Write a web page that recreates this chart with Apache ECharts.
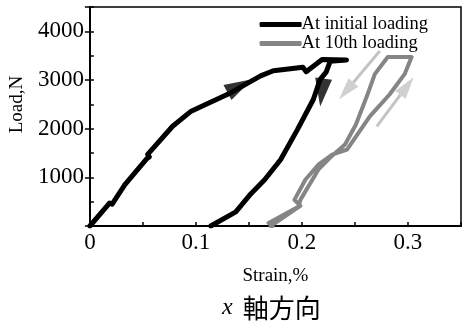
<!DOCTYPE html>
<html>
<head>
<meta charset="utf-8">
<script src="https://cdn.jsdelivr.net/npm/echarts@6/dist/echarts.min.js"></script>
<style>
  html, body { margin: 0; padding: 0; background: #fff; }
  #chart { width: 464px; height: 324px; }
</style>
</head>
<body>
<div id="chart"></div>
<script>
// 荷重-ひずみ曲線（x軸方向）
var seriesNames = ['At initial loading', 'At 10th loading'];

// 初回載荷
var initialStrain = [0, 0.0185, 0.021, 0.033, 0.0535, 0.056, 0.0545, 0.078, 0.0955, 0.133, 0.161, 0.173, 0.201, 0.204, 0.219, 0.242,
                     0.2266, 0.2228, 0.2172, 0.2107, 0.1957, 0.1798, 0.1648, 0.1517, 0.1376, 0.114];
var initialLoad   = [0, 470, 450, 850, 1380, 1420, 1470, 2050, 2360, 2740, 3085, 3190, 3260, 3170, 3420, 3410,
                     3385, 3160, 3015, 2600, 1980, 1360, 950, 660, 290, 0];

// 10回目載荷
var tenthStrain = [0.1704, 0.1985, 0.1929, 0.2032, 0.2154, 0.2285, 0.2425, 0.264, 0.2828, 0.2968, 0.3034, 0.2809,
                   0.2687, 0.2612, 0.2509, 0.2406, 0.2266, 0.2154, 0.1985, 0.1966, 0.1685, 0.1723];
var tenthLoad   = [0, 413, 537, 950, 1260, 1467, 1570, 2252, 2707, 3120, 3471, 3471,
                   3120, 2665, 2087, 1674, 1405, 1157, 537, 393, 62, 0];

// 矢印（黒）: 頭の中心と回転角
var blackArrowHeads = [[0.1414, 2878], [0.2188, 2742]];
var blackArrowRotate = [-62, 173];

// 矢印（薄い灰色）: 軸 [始点, 終点] と頭
var greyArrowShafts = [
    [[0.2734, 3595], [0.2484, 2950]],
    [[0.2706, 2045], [0.2928, 2694]]
];
var greyArrowHeads = [[0.2418, 2777], [0.2991, 2876]];
var greyArrowRotate = [139.5, -37];

function zip (xs, ys) {
    var out = [];
    for (var i = 0; i < xs.length; i++) {
        out.push([xs[i], ys[i]]);
    }
    return out;
}

var serif = 'Liberation Serif';

var myChart = echarts.init(document.getElementById('chart'));

var series = [];

// 灰色の矢印（軸）
greyArrowShafts.forEach(function (s) {
    series.push({
        type: 'line',
        data: s,
        showSymbol: false,
        silent: true,
        lineStyle: { color: '#c4c4c4', width: 3 },
        z: 1
    });
});
// 灰色の矢印（頭）
series.push({
    type: 'scatter',
    silent: true,
    z: 1,
    data: greyArrowHeads.map(function (p, i) {
        return { value: p, symbolRotate: greyArrowRotate[i] };
    }),
    symbol: 'triangle',
    symbolSize: [13, 22],
    itemStyle: { color: '#c4c4c4' }
});

series.push({
    name: seriesNames[1],
    type: 'line',
    data: zip(tenthStrain, tenthLoad),
    showSymbol: false,
    lineStyle: { color: '#858585', width: 4, cap: 'round', join: 'round' },
    itemStyle: { color: '#858585' },
    z: 2
});

series.push({
    name: seriesNames[0],
    type: 'line',
    data: zip(initialStrain, initialLoad),
    showSymbol: false,
    lineStyle: { color: '#000', width: 5, cap: 'round', join: 'round' },
    itemStyle: { color: '#000' },
    z: 3
});

// 黒い矢印
series.push({
    type: 'scatter',
    silent: true,
    z: 4,
    data: blackArrowHeads.map(function (p, i) {
        return { value: p, symbolRotate: blackArrowRotate[i] };
    }),
    symbol: 'triangle',
    symbolSize: [17, 28],
    itemStyle: { color: '#000' }
});

var option = {
    animation: false,
    backgroundColor: '#fff',
    title: {
        text: '{i|x}{c|軸方向}',
        left: 217,
        top: 290,
        textStyle: {
            fontWeight: 'normal',
            rich: {
                i: { fontFamily: serif, fontStyle: 'italic', fontWeight: 'normal', fontSize: 24, color: '#000' },
                c: { fontFamily: 'Noto Sans CJK JP', fontWeight: 'normal', fontSize: 26, color: '#000', padding: [0, 0, 0, 10] }
            }
        }
    },
    legend: {
        data: seriesNames,
        orient: 'vertical',
        right: 31,
        top: 10,
        icon: 'roundRect',
        itemWidth: 42,
        itemHeight: 5,
        itemGap: 0,
        textStyle: { fontFamily: serif, fontSize: 18.5, color: '#000', padding: [0, 0, 0, -5] }
    },
    grid: {
        left: 88,
        right: 2,
        top: 7,
        bottom: 98,
        show: true,
        borderColor: '#000',
        borderWidth: 1.5
    },
    xAxis: {
        type: 'value',
        min: 0,
        max: 0.35,
        interval: 0.05,
        name: 'Strain,%',
        nameLocation: 'middle',
        nameGap: 41,
        nameTextStyle: { fontFamily: serif, fontSize: 19, color: '#000' },
        axisLine: { lineStyle: { color: '#000', width: 2 } },
        axisTick: { inside: true, length: 4, lineStyle: { color: '#000', width: 1.5 } },
        splitLine: { show: false },
        axisLabel: {
            margin: 5,
            fontFamily: serif,
            fontSize: 23,
            color: '#000',
            formatter: function (v) {
                var r = Math.round(v * 100) / 100;
                if (Math.round(r * 100) % 10 !== 0 || r > 0.3) return '';
                return String(r);
            }
        }
    },
    yAxis: [
        {
            type: 'value',
            min: 0,
            max: 4500,
            interval: 1000,
            name: 'Load,N',
            nameLocation: 'middle',
            nameGap: 60,
            nameTextStyle: { fontFamily: serif, fontSize: 19, color: '#000', padding: [0, 0, 0, 24] },
            axisLine: { lineStyle: { color: '#000', width: 2 } },
            axisTick: { inside: false, length: 5, lineStyle: { color: '#000', width: 1.5 } },
            splitLine: { show: false },
            axisLabel: {
                margin: 6,
                fontFamily: serif,
                fontSize: 23,
                color: '#000',
                formatter: function (v) {
                    if (v === 0 || v > 4000) return '';
                    return String(v);
                }
            }
        },
        {
            // 内側の補助目盛
            type: 'value',
            min: 0,
            max: 4500,
            interval: 500,
            position: 'left',
            axisLine: { show: false },
            axisTick: { inside: true, length: 4, lineStyle: { color: '#000', width: 1.5 } },
            axisLabel: { show: false },
            splitLine: { show: false }
        }
    ],
    series: series
};

myChart.setOption(option);
</script>
</body>
</html>
